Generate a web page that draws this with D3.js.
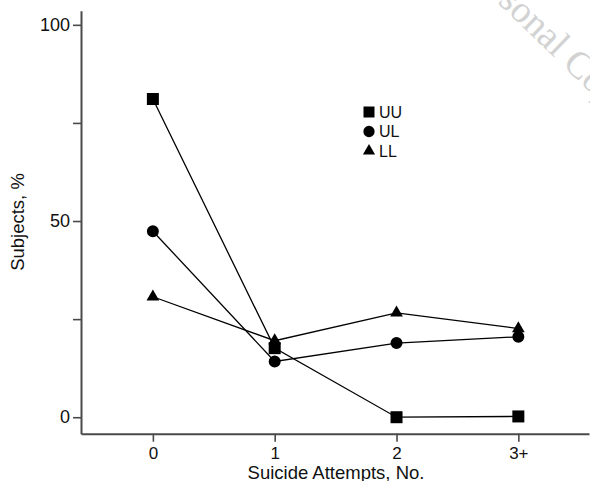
<!DOCTYPE html>
<html>
<head>
<meta charset="utf-8">
<script src="https://cdn.jsdelivr.net/npm/d3@7"></script>
<style>
  html, body { margin: 0; padding: 0; background: #fff; }
  svg { display: block; }
  text { font-family: "Liberation Sans", Arial, Helvetica, sans-serif; }
</style>
</head>
<body>
<svg id="chart" width="590" height="481"></svg>
<script>
// ---- data ----
const categories = ["0", "1", "2", "3+"];
const seriesNames = ["UU", "UL", "LL"];
const uuValues = [81.1, 17.6, 0.0, 0.2];
const ulValues = [47.4, 14.2, 18.9, 20.5];
const llValues = [30.7, 19.5, 26.6, 22.6];
const yTickValues = [0, 25, 50, 75, 100];
const yTickLabels = ["0", "", "50", "", "100"];
const xTitle = "Suicide Attempts, No.";
const yTitle = "Subjects, %";
const watermark = "Personal Copy";

const series = [
  { name: seriesNames[0], values: uuValues, symbol: d3.symbolSquare, size: 144, legendSize: 121 },
  { name: seriesNames[1], values: ulValues, symbol: d3.symbolCircle, size: 113, legendSize: 100 },
  { name: seriesNames[2], values: llValues, symbol: d3.symbolTriangle, size: 70, legendSize: 64 }
];

const svg = d3.select("#chart");

// watermark
svg.append("text")
  .attr("transform", "translate(550,35) rotate(44)")
  .attr("text-anchor", "middle")
  .attr("dy", "0.35em")
  .style("font-family", "'Liberation Serif', 'Times New Roman', serif")
  .style("font-size", "38px")
  .attr("fill", "#d2d2d2")
  .text(watermark);

// scales
const x = d3.scaleLinear().domain([-0.59, 3.58]).range([81, 589]);
const y = d3.scaleLinear().domain([-4.2, 103.6]).range([433.7, 10.7]);

const axisColor = "#4a4a4a";

// y axis
const yAxis = d3.axisLeft(y)
  .tickValues(yTickValues)
  .tickFormat((d, i) => yTickLabels[i])
  .tickSize(8)
  .tickSizeOuter(0)
  .tickPadding(3);
const gy = svg.append("g").attr("transform", "translate(81,0)").call(yAxis);

// x axis
const xAxis = d3.axisBottom(x)
  .tickValues(categories.map((c, i) => i))
  .tickFormat((d, i) => categories[i])
  .tickSize(8)
  .tickSizeOuter(0)
  .tickPadding(5);
const gx = svg.append("g").attr("transform", "translate(0,433.7)").call(xAxis);

[gx, gy].forEach(g => {
  g.select(".domain").attr("stroke", axisColor).attr("stroke-width", 2);
  g.selectAll(".tick line").attr("stroke", axisColor).attr("stroke-width", 1.6);
  g.selectAll(".tick text")
    .attr("fill", "#111")
    .style("font-family", "'Liberation Sans', Arial, sans-serif");
});
gy.selectAll(".tick text").style("font-size", "18px");
gx.selectAll(".tick text").style("font-size", "17px");

// axis titles
svg.append("text")
  .attr("x", 336).attr("y", 478.5)
  .attr("text-anchor", "middle")
  .attr("fill", "#111")
  .style("font-size", "18.5px")
  .text(xTitle);

svg.append("text")
  .attr("transform", "translate(24,222) rotate(-90)")
  .attr("text-anchor", "middle")
  .attr("fill", "#111")
  .style("font-size", "18.5px")
  .text(yTitle);

// lines
const line = d3.line()
  .x((d, i) => x(i))
  .y(d => y(d));

series.forEach(s => {
  svg.append("path")
    .datum(s.values)
    .attr("d", line)
    .attr("fill", "none")
    .attr("stroke", "#000")
    .attr("stroke-width", 1.3);
});

// markers
series.forEach(s => {
  svg.append("g").selectAll("path")
    .data(s.values)
    .join("path")
    .attr("transform", (d, i) => `translate(${x(i)},${y(d)})`)
    .attr("d", d3.symbol().type(s.symbol).size(s.size))
    .attr("fill", "#000");
});

// legend
const legend = svg.append("g").attr("transform", "translate(369,112)");
series.forEach((s, i) => {
  const row = legend.append("g").attr("transform", `translate(0,${i * 19.5})`);
  row.append("path")
    .attr("d", d3.symbol().type(s.symbol).size(s.legendSize))
    .attr("fill", "#000");
  row.append("text")
    .attr("x", 10).attr("y", 0)
    .attr("dy", "0.36em")
    .attr("fill", "#111")
    .style("font-size", "16px")
    .text(s.name);
});
</script>
</body>
</html>
